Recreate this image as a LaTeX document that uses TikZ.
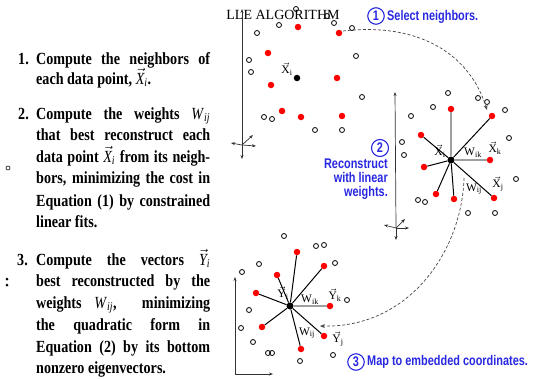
\documentclass[tikz,border=0pt]{standalone}
\usepackage{amsmath}
\usepackage{fontspec}
\setmainfont{Liberation Serif}
\newfontfamily\ltext{Liberation Serif}[FakeStretch=0.83]
\newfontfamily\bluefont{Liberation Sans}[FakeStretch=0.78]
\usetikzlibrary{arrows.meta}
\definecolor{lleblue}{RGB}{40,40,225}
\newcommand{\vlab}[2]{$\vec{\textrm{#1}}_{\textrm{#2}}$}
\newcommand{\wlab}[1]{W$_{\textrm{#1}}$}
\newcommand{\vit}[2]{\(\vec{\textit{\mdseries #1}}_{\textit{\mdseries #2}}\)}
\newcommand{\wit}{\textit{\mdseries W}\(_{\textit{\mdseries ij}}\)}
\newcommand{\jl}[1]{\makebox[174pt][s]{#1}}
\begin{document}
\begin{tikzpicture}[x=1pt,y=-1pt,
  opt/.style={circle,draw=black,line width=0.8pt,minimum size=5pt,inner sep=0pt},
  redpt/.style={circle,fill=red,minimum size=6.5pt,inner sep=0pt},
  ctr/.style={circle,fill=black,minimum size=7pt,inner sep=0pt},
  txt/.style={anchor=base west,inner sep=0pt,font=\ltext\bfseries\fontsize{17}{20}\selectfont},
  lab/.style={inner sep=0pt,font=\fontsize{11.5}{11.5}\selectfont},
  spoke/.style={line width=1pt,black},
  gspoke/.style={line width=1.6pt,gray!75},
  ax/.style={line width=0.7pt,black!80,-{Stealth[length=4pt,width=3pt]}},
  dsh/.style={dashed,dash pattern=on 3pt off 2pt,line width=0.7pt,gray!55!black,-{Stealth[length=5pt,width=4pt]}},
  bnum/.style={circle,draw=lleblue,line width=1.1pt,minimum size=16.5pt,inner sep=0pt,text=lleblue,font=\bluefont\bfseries\fontsize{14}{14}\selectfont},
  btxt/.style={inner sep=0pt,text=lleblue,font=\bluefont\bfseries\fontsize{14}{13.6}\selectfont}]
\useasboundingbox (0,0) rectangle (540,378);

% ---------- left text ----------
\node[txt] (n1) at (18,64) {1.};
\node[txt] (l1a) at (36,64) {\jl{Compute the neighbors of}};
\node[txt] (l1b) at (36,84) {each data point, \vit{X}{i}.};
\node[txt] (n2) at (18,119) {2.};
\node[txt] (l2a) at (36,119) {\jl{Compute the weights \wit}};
\node[txt] (l2b) at (36,140) {\jl{that best reconstruct each}};
\node[txt] (l2c) at (36,162) {\jl{data point \vit{X}{i} from its neigh-}};
\node[txt] (l2d) at (36,183) {\jl{bors, minimizing the cost in}};
\node[txt] (l2e) at (36,206) {\jl{Equation (1) by constrained}};
\node[txt] (l2f) at (36,227) {linear fits.};
\node[txt] (n3) at (17,265) {3.};
\node[txt] (l3a) at (36,265) {\jl{Compute the vectors \vit{Y}{i}}};
\node[txt] (l3b) at (36,286) {\jl{best reconstructed by the}};
\node[txt] (l3c) at (36,308) {\jl{weights \wit,\ \ minimizing}};
\node[txt] (l3d) at (36,330) {\jl{the quadratic form in}};
\node[txt] (l3e) at (36,352) {\jl{Equation (2) by its bottom}};
\node[txt] (l3f) at (36,373) {nonzero eigenvectors.};
% stray marks
\node[opt,minimum size=4pt,line width=0.6pt] (s1) at (8,168) {};
\fill (7,279) circle (1.5pt) (7,285) circle (1.5pt);

% ---------- title ----------
\node[inner sep=0pt,font=\fontsize{14}{14}\selectfont] (title) at (283,15) {LLE ALGORITHM};

% ---------- panel 1 ----------
\coordinate (o1) at (242,145);
\coordinate (o1t) at (242,9);
\coordinate (o1l) at (231,143);
\coordinate (o1u) at (253,135);
\coordinate (o1r) at (256,146);
\coordinate (o1d) at (242,159);
\draw[ax] (o1) -- (o1t);
\foreach \e in {o1l,o1u,o1r,o1d} \draw[ax] (o1) -- (\e);
\foreach \x/\y [count=\i] in {296/9,279/25,257/33,249/60,251/72,327/16,334/23,352/28,356/56,362/97,264/117,272/119,315/130,342/130}
  \node[opt] (pa\i) at (\x,\y) {};
\foreach \x/\y [count=\i] in {298/27,339/33,268/53,271/85,337/78,282/111,301/117,342/116}
  \node[redpt] (ra\i) at (\x,\y) {};
\node[ctr,minimum size=6.5pt] (ca) at (297,78) {};
\node[lab] (xa) at (287,69) {\vlab{X}{i}};

% ---------- panel 2 ----------
\coordinate (o2) at (396,228);
\coordinate (o2t) at (395,92);
\coordinate (o2l) at (384,225);
\coordinate (o2u) at (405,219);
\coordinate (o2r) at (409,228);
\coordinate (o2d) at (396,240);
\draw[ax] (o2) -- (o2t);
\foreach \e in {o2l,o2u,o2r,o2d} \draw[ax] (o2) -- (\e);
\foreach \x/\y [count=\i] in {448/93,478/98,487/102,433/107,505/110,411/116,509/138,402/142,404/155,516/179,418/200,425/202,468/213,495/213}
  \node[opt] (pb\i) at (\x,\y) {};
\foreach \x/\y [count=\i] in {451/109,492/116,421/135,490/160,424/167,436/194,454/199,494/198}
  \node[redpt] (rb\i) at (\x,\y) {};
\node[ctr] (cb) at (451,160) {};
\draw[gspoke] (cb) -- (rb1);
\draw[gspoke] (cb) -- (rb4);
\foreach \n in {rb2,rb3,rb5,rb6,rb7,rb8} \draw[spoke] (cb) -- (\n);
\node[lab] (xbi) at (440,151) {\vlab{X}{i}};
\node[lab] (wbk) at (473,153) {\wlab{ik}};
\node[lab] (xbk) at (495,148) {\vlab{X}{k}};
\node[lab] (wbj) at (474,189) {\wlab{ij}};
\node[lab] (xbj) at (498,184) {\vlab{X}{j}};

% ---------- panel 3 ----------
\coordinate (o3) at (235,374);
\coordinate (o3t) at (235,277);
\coordinate (o3r) at (273,374);
\draw[ax] (o3) -- (o3t);
\draw[ax] (o3) -- (o3r);
\foreach \x/\y [count=\i] in {284/236,316/246,324/245,259/264,242/272,335/263,347/300,249/310,241/328,253/342,268/353,272/353,333/355,300/361}
  \node[opt] (pc\i) at (\x,\y) {};
\foreach \x/\y [count=\i] in {297/252,324/266,277/275,256/293,330/306,262/327,324/336,301/349}
  \node[redpt] (rc\i) at (\x,\y) {};
\node[ctr] (cc) at (290,306) {};
\draw[gspoke] (cc) -- (rc5);
\foreach \n in {rc1,rc2,rc3,rc4,rc6,rc7,rc8} \draw[spoke] (cc) -- (\n);
\node[lab] (yci) at (283,293) {\vlab{Y}{i}};
\node[lab] (wck) at (310,300) {\wlab{ik}};
\node[lab] (yck) at (335,295) {\vlab{Y}{k}};
\node[lab] (wcj) at (307,333) {\wlab{ij}};
\node[lab] (ycj) at (338,339) {\vlab{Y}{j}};

% ---------- dashed mapping arrows ----------
\coordinate (d1s) at (343,31);
\coordinate (d1e) at (487,110);
\draw[dsh] (d1s) .. controls (420,22) and (470,55) .. (d1e);
\coordinate (d2s) at (464,178);
\coordinate (d2e) at (320,326);
\draw[dsh] (d2s) .. controls (462,250) and (410,328) .. (d2e);

% ---------- blue annotations ----------
\node[bnum] (b1) at (376,16) {1};
\node[btxt,anchor=west] (t1) at (387,17) {Select neighbors.};
\node[bnum,minimum size=17pt] (b2) at (380,148) {2};
\node[btxt,anchor=north east,align=right] (t2) at (388,159) {Reconstruct\\with linear\\weights.};
\node[bnum] (b3) at (356,362) {3};
\node[btxt,anchor=west] (t3) at (367,362) {Map to embedded coordinates.};
\end{tikzpicture}
\end{document}
